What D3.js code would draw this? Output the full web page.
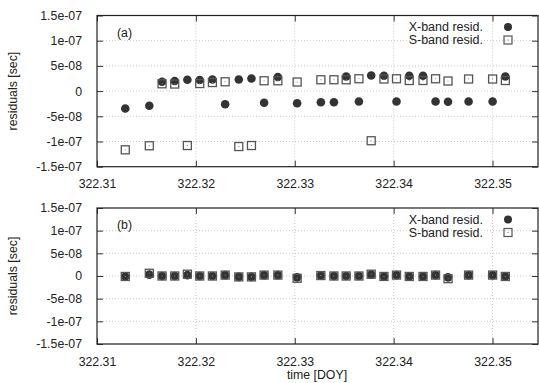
<!DOCTYPE html>
<html><head><meta charset="utf-8">
<script src="https://cdn.jsdelivr.net/npm/d3@7"></script>
<style>body{margin:0;background:#fff}svg{display:block}text{font-family:"Liberation Sans",Arial,sans-serif;fill:#222}</style>
</head><body><svg id="c" width="539" height="383"></svg>
<script>
const doy = [322.31286,322.31529,322.31658,322.31786,322.31914,322.32039,322.32167,322.32296,322.32434,322.32562,322.3269,322.32829,322.33024,322.33264,322.33396,322.3352,322.33649,322.33773,322.33902,322.34029,322.34158,322.34297,322.34424,322.3455,322.34758,322.35001,322.3513];
const xTop = [-3.45,-2.9,1.85,2.0,2.25,2.2,2.3,-2.6,2.3,2.5,-2.3,2.8,-2.4,-2.2,-2.2,2.9,-2.05,3.1,3.05,-2.05,3.05,3.05,-2.05,-2.1,-2.05,-2.05,2.9].map(v=>v*1e-8);
const sTop = [-11.65,-10.85,1.45,1.4,-10.8,1.5,1.7,1.85,-11.0,-10.8,2.05,2.05,1.8,2.25,2.25,2.25,2.45,-9.85,2.4,2.45,2.1,2.1,2.45,2.0,2.4,2.4,2.1].map(v=>v*1e-8);
const xBot = [-0.1,0.3,0,0,0.2,0,0,0.2,-0.2,-0.2,0.2,0.2,-0.3,0.1,0,0,0,0.3,-0.1,0.2,-0.1,-0.1,0.2,-0.3,0.2,0.2,-0.1].map(v=>v*1e-8);
const sBot = [-0.1,0.6,0,0,0.4,0,0,0.2,-0.2,-0.2,0.2,0.2,-0.5,0.1,0,0,0,0.4,-0.1,0.2,-0.1,-0.1,0.2,-0.6,0.2,0.2,-0.1].map(v=>v*1e-8);
const yTicks = [-1.5e-7,-1e-7,-5e-8,0,5e-8,1e-7,1.5e-7];
const yTickLabels = ["-1.5e-07","-1e-07","-5e-08","0","5e-08","1e-07","1.5e-07"];
const xTicks = [322.31,322.32,322.33,322.34,322.35];
const xTickLabels = ["322.31","322.32","322.33","322.34","322.35"];
const seriesNames = ["X-band resid.","S-band resid."];
const panelLabels = ["(a)","(b)"];

const svg = d3.select("#c");
const L = 97, R = 538;
const x = d3.scaleLinear().domain([322.31, 322.3546]).range([L, R]);
const panels = [
  {top:15.5, bot:166.7, xs:xTop, ss:sTop, label:panelLabels[0]},
  {top:208, bot:344, xs:xBot, ss:sBot, label:panelLabels[1]}
];
panels.forEach((p,i)=>{
  const y = d3.scaleLinear().domain([-1.5e-7,1.5e-7]).range([p.bot,p.top]);
  const g = svg.append("g");
  g.selectAll(".gy").data(yTicks.slice(1,-1)).enter().append("line")
    .attr("x1",L).attr("x2",R).attr("y1",d=>y(d)).attr("y2",d=>y(d))
    .attr("stroke","#bbb").attr("stroke-width",0.8).attr("stroke-dasharray","1,2");
  g.selectAll(".gx").data(xTicks.slice(1)).enter().append("line")
    .attr("y1",p.top).attr("y2",p.bot).attr("x1",d=>x(d)).attr("x2",d=>x(d))
    .attr("stroke","#bbb").attr("stroke-width",0.8).attr("stroke-dasharray","1,2");
  const ay = d3.axisLeft(y).tickValues(yTicks).tickFormat((d,k)=>yTickLabels[k]).tickSize(-6).tickPadding(15);
  const gy = g.append("g").attr("transform",`translate(${L},0)`).call(ay);
  const ayr = d3.axisRight(y).tickValues(yTicks).tickFormat("").tickSize(-6);
  const gyr = g.append("g").attr("transform",`translate(${R},0)`).call(ayr);
  const ax = d3.axisBottom(x).tickValues(xTicks).tickFormat((d,k)=>xTickLabels[k]).tickSize(-6).tickPadding(13);
  const gx = g.append("g").attr("transform",`translate(0,${p.bot})`).call(ax);
  const axt = d3.axisTop(x).tickValues(xTicks).tickFormat("").tickSize(-6);
  const gxt = g.append("g").attr("transform",`translate(0,${p.top})`).call(axt);
  [gy,gyr,gx,gxt].forEach(a=>{
    a.select(".domain").remove();
    a.selectAll("line").attr("stroke","#333");
    a.selectAll("text").attr("font-size","12.3px").attr("fill","#222").style("font-family","'Liberation Sans',Arial,sans-serif");
  });
  g.append("rect").attr("x",L).attr("y",p.top).attr("width",R-L).attr("height",p.bot-p.top)
    .attr("fill","none").attr("stroke","#222").attr("stroke-width",1.2);
  g.append("text").attr("x",117).attr("y",p.top+21).attr("font-size","12.3px").text(p.label);
  g.append("text").attr("transform",`translate(17,${(p.top+p.bot)/2}) rotate(-90)`)
    .attr("text-anchor","middle").attr("font-size","12.3px").text("residuals [sec]");
  const ly1 = p.top+11.5, ly2 = p.top+24.5;
  g.append("text").attr("x",483).attr("y",ly1+4).attr("text-anchor","end").attr("font-size","12.5px").text(seriesNames[0]);
  g.append("text").attr("x",483).attr("y",ly2+4).attr("text-anchor","end").attr("font-size","12.5px").text(seriesNames[1]);
  g.append("circle").attr("cx",508).attr("cy",ly1).attr("r",4).attr("fill","#333");
  g.append("rect").attr("x",504).attr("y",ly2-4).attr("width",8).attr("height",8).attr("fill","none").attr("stroke","#555").attr("stroke-width",1.2);
  g.append("rect").attr("x",507.5).attr("y",ly2-0.5).attr("width",1).attr("height",1).attr("fill","#777");
  g.selectAll(".cx").data(doy).enter().append("circle")
    .attr("cx",d=>x(d)).attr("cy",(d,k)=>y(p.xs[k])).attr("r",4.3).attr("fill","#333");
  g.selectAll(".sq").data(doy).enter().append("rect")
    .attr("x",d=>x(d)-4).attr("y",(d,k)=>y(p.ss[k])-4).attr("width",8).attr("height",8)
    .attr("fill","none").attr("stroke","#555").attr("stroke-width",1.3);
  g.selectAll(".dot").data(doy).enter().append("rect")
    .attr("x",d=>x(d)-0.5).attr("y",(d,k)=>y(p.ss[k])-0.5).attr("width",1).attr("height",1).attr("fill","#888");
});
svg.append("text").attr("x",317).attr("y",379).attr("text-anchor","middle").attr("font-size","12.3px").text("time [DOY]");
</script></body></html>
